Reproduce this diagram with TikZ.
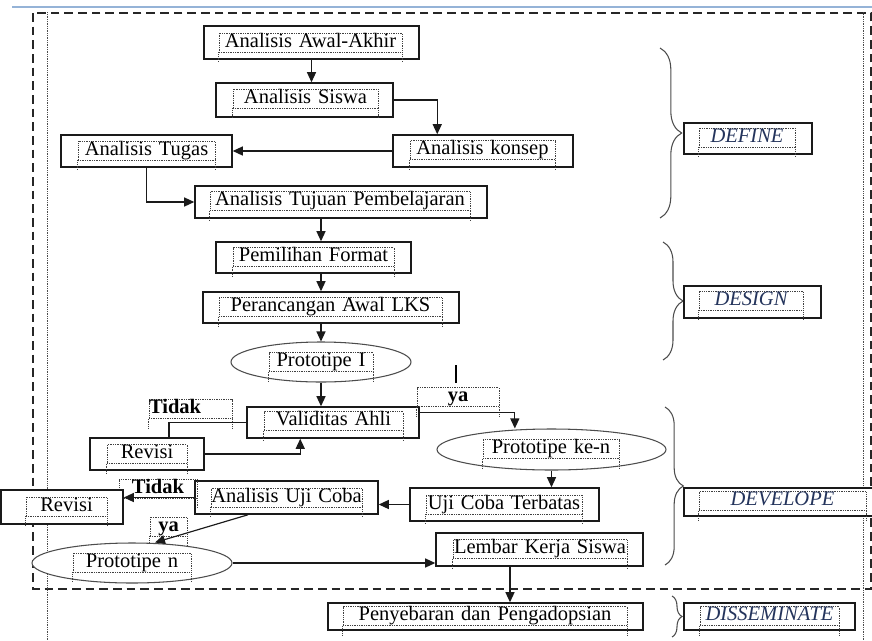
\documentclass[tikz,border=0pt]{standalone}
\usepackage{fontspec}
\setmainfont{Liberation Serif}
\usepackage{tikz}
\usetikzlibrary{arrows.meta,positioning,calc,shapes.geometric,decorations.pathreplacing}
\definecolor{flowline}{HTML}{1A1A1A}
\definecolor{stageink}{HTML}{24345C}
\definecolor{rulerblue}{HTML}{95B3D7}

\begin{document}
\begin{tikzpicture}[
  x=0.03cm, y=-0.03cm,
  font=\fontsize{17.5}{19}\selectfont,
  every node/.style={align=center},
  stepbox/.style={draw=flowline,line width=1.3pt,fill=white,inner sep=0pt},
  proto/.style={ellipse,draw=black!70,line width=0.9pt,fill=white,inner sep=0pt},
  tframe/.style={draw=black!75,densely dotted,line width=0.5pt,inner sep=0pt,
                 text height=0.42cm,text depth=0.15cm,
                 append after command={
                   (\tikzlastnode.south west) edge[densely dotted,line width=0.5pt,draw=black!75] ++(0,10)
                   (\tikzlastnode.south east) edge[densely dotted,line width=0.5pt,draw=black!75] ++(0,10)}},
  stagelbl/.style={tframe,text=stageink,font=\fontsize{17.5}{19}\selectfont\itshape},
  choice/.style={tframe,font=\fontsize{17.5}{19}\selectfont\bfseries},
  stagebrace/.style={decorate,decoration={brace,amplitude=#1},line width=0.9pt,draw=black!70},
  stagebrace/.default=0.6cm,
  outerdash/.style={dash pattern=on 0.26cm off 0.15cm,line width=1.5pt,draw=black!85},
  guide/.style={densely dotted,line width=0.5pt,draw=black!70},
  arr/.style={-{Triangle[length=0.3cm,width=0.27cm]},line width=1pt,draw=flowline},
  plain/.style={line width=1pt,draw=flowline}
]
\useasboundingbox (0,0) rectangle (872,640);

% page frame
\draw[rulerblue,line width=1.5pt] (12,7) -- (872,7);
\draw[outerdash] (33,13) rectangle (871,589);
\draw[guide] (47,12) -- (47,640);
\draw[guide] (863,12) -- (863,640);

% define
\node[stepbox,minimum width=6.45cm,minimum height=0.99cm] (awal) at (311.5,42.5) {};
\node[tframe,text width=5.49cm] (awal-t) at (310.5,42.5) {Analisis Awal-Akhir};
\node[stepbox,minimum width=5.31cm,minimum height=1.02cm] (siswa) at (304.5,100) {};
\node[tframe,text width=4.35cm] (siswa-t) at (305.5,98.5) {Analisis Siswa};
\node[stepbox,minimum width=5.4cm,minimum height=0.96cm] (konsep) at (483,151) {};
\node[tframe,text width=4.35cm] (konsep-t) at (482.5,150) {Analisis konsep};
\node[stepbox,minimum width=5.13cm,minimum height=0.96cm] (tugas) at (146.5,151) {};
\node[tframe,text width=4.11cm] (tugas-t) at (146.5,150.5) {Analisis Tugas};
\node[stepbox,minimum width=8.76cm,minimum height=0.96cm] (tujuan) at (341,202) {};
\node[tframe,text width=7.8cm] (tujuan-t) at (340,201) {Analisis Tujuan Pembelajaran};

% design
\node[stepbox,minimum width=5.85cm,minimum height=0.93cm] (format) at (313.5,257.5) {};
\node[tframe,text width=4.83cm] (format-t) at (313.5,257) {Pemilihan Format};
\node[stepbox,minimum width=7.68cm,minimum height=0.93cm] (rancang) at (331,307.5) {};
\node[tframe,text width=6.69cm] (rancang-t) at (330.5,307) {Perancangan Awal LKS};
\node[proto,minimum width=5.4cm,minimum height=1.2cm] (protoI) at (321,362) {};
\node[tframe,text width=3.12cm] (protoI-t) at (321,362) {Prototipe I};

% develope
\node[stepbox,minimum width=5.16cm,minimum height=0.93cm] (valid) at (333,422.5) {};
\node[tframe,text width=4.17cm] (valid-t) at (333.5,421) {Validitas Ahli};
\node[choice,text width=2.49cm,align=left] (tidakA) at (190.5,409) {Tidak};
\node[choice,text width=2.46cm] (yaA) at (458,397) {ya};
\node[stepbox,minimum width=3.42cm,minimum height=0.96cm] (revisiA) at (147,454) {};
\node[tframe,text width=2.4cm] (revisiA-t) at (147,454) {Revisi};
\node[proto,minimum width=6.87cm,minimum height=1.23cm] (protoKe) at (551.5,449.5) {};
\node[tframe,text width=4.08cm] (protoKe-t) at (551,449) {Prototipe ke-n};
\node[stepbox,minimum width=5.67cm,minimum height=0.99cm] (terbatas) at (504.5,504.5) {};
\node[tframe,text width=4.68cm] (terbatas-t) at (504,504.5) {Uji Coba Terbatas};
\node[stepbox,minimum width=5.49cm,minimum height=0.99cm] (ujicoba) at (286.5,497.5) {};
\node[tframe,text width=4.53cm] (ujicoba-t) at (286.5,497.5) {Analisis Uji Coba};
\node[choice,text width=2.34cm] (tidakB) at (158,488.5) {Tidak};
\node[stepbox,minimum width=3.66cm,minimum height=1.02cm] (revisiB) at (62,507) {};
\node[tframe,text width=2.43cm] (revisiB-t) at (66.5,506.5) {Revisi};
\node[choice,text width=1.11cm] (yaB) at (168.5,526.5) {ya};
\node[proto,minimum width=6.0cm,minimum height=1.2cm] (protoN) at (132,563) {};
\node[tframe,text width=3.54cm] (protoN-t) at (132,562.5) {Prototipe n};
\node[stepbox,minimum width=6.21cm,minimum height=0.99cm] (lembar) at (539.5,549.5) {};
\node[tframe,text width=5.22cm] (lembar-t) at (540,549) {Lembar Kerja  Siswa};

% disseminate
\node[stepbox,minimum width=9.45cm,minimum height=0.81cm] (sebar) at (485.5,616.5) {};
\node[tframe,text width=8.52cm] (sebar-t) at (485,616) {Penyebaran dan Pengadopsian};

% stages
\draw[stagebrace=0.65cm] (660,48) -- (660,218);
\node[stepbox,minimum width=3.84cm,minimum height=0.93cm] (define) at (748,138.5) {};
\node[stagelbl,text width=2.88cm] (define-t) at (747,137.5) {DEFINE};
\draw[stagebrace] (663,242) -- (663,360);
\node[stepbox,minimum width=4.11cm,minimum height=0.96cm] (design) at (752.5,302) {};
\node[stagelbl,text width=3.12cm] (design-t) at (751,300.5) {DESIGN};
\draw[stagebrace=0.55cm] (665,407) -- (665,565);
\node[stepbox,minimum width=5.7cm,minimum height=0.84cm] (develope) at (779,502) {};
\node[stagelbl,text width=5.01cm] (develope-t) at (782.5,501) {DEVELOPE};
\draw[stagebrace=0.3cm] (672,596) -- (672,637);
\node[stepbox,minimum width=5.13cm,minimum height=0.81cm] (dissem) at (769.5,616.5) {};
\node[stagelbl,text width=4.17cm] (dissem-t) at (769.5,616) {DISSEMINATE};

% flow
\draw[arr] (awal.south) -- (awal.south |- siswa.north);
\draw[arr] (siswa.east) -| ([xshift=1.35cm]konsep.north west);
\draw[arr] (konsep.west) -- (tugas.east);
\draw[arr] (tugas.south) |- (tujuan.west);
\draw[arr] (tujuan.south -| protoI) -- (format.north -| protoI);
\draw[arr] (format.south -| protoI) -- (rancang.north -| protoI);
\draw[arr] (rancang.south -| protoI) -- (protoI.north);
\draw[arr] (protoI.south) -- (protoI.south |- valid.north);
\draw[plain] (valid.west) -| ([xshift=0.66cm]revisiA.north);
\draw[arr] (revisiA.east) -| ([xshift=1.62cm]valid.south west);
\draw[arr] ([yshift=0.3cm]valid.east) -| ([xshift=-1.1cm]protoKe.north);
\draw[arr] (protoKe.south) -- (protoKe.south |- terbatas.north);
\draw[arr] (terbatas.west) -- (terbatas.west -| ujicoba.east);
\draw[arr] (ujicoba.west) -- (ujicoba.west -| revisiB.east);
\draw[arr] ([xshift=-1.155cm]ujicoba.south) -- ([xshift=0.69cm]protoN.north);
\draw[arr] (protoN.east) -- (protoN.east -| lembar.west);
\draw[arr] ([xshift=-0.885cm]lembar.south) -- ([xshift=-0.885cm]lembar.south |- sebar.north);

% cursor mark
\coordinate (caret-top) at (456,365);
\coordinate (caret-end) at (456,383);
\draw[line width=2pt] (caret-top) -- (caret-end);
\end{tikzpicture}
\end{document}
